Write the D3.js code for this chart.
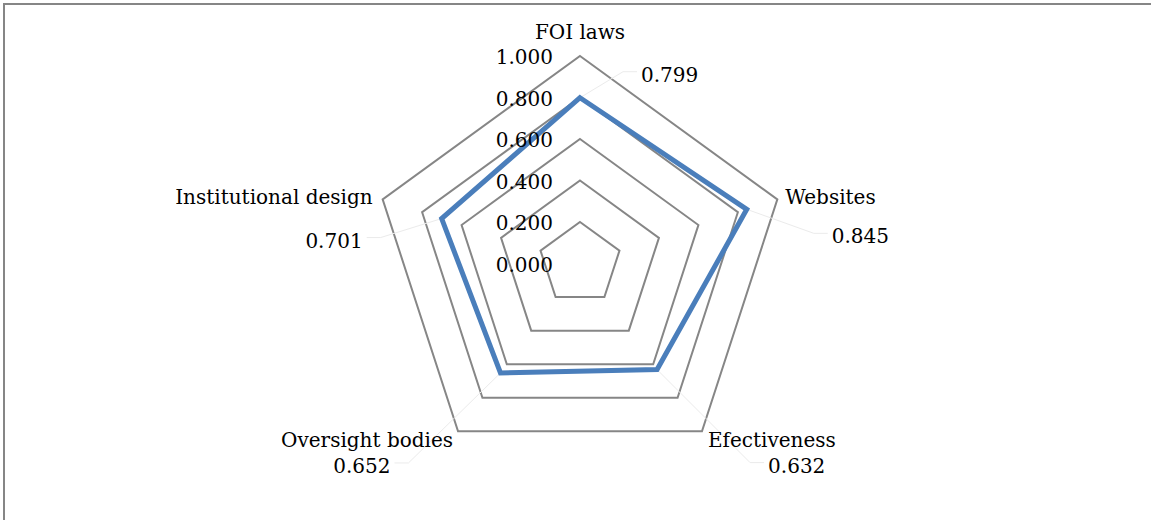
<!DOCTYPE html>
<html><head><meta charset="utf-8">
<script src="https://cdn.jsdelivr.net/npm/d3@7"></script>
<style>body{margin:0;background:#fff}svg{display:block}</style>
</head><body><svg id="chart" width="1151" height="520"></svg>
<script>
// Transparency index by dimension
const categories = ["FOI laws", "Websites", "Efectiveness", "Oversight bodies", "Institutional design"];
const values = [0.799, 0.845, 0.632, 0.652, 0.701];
const tickValues = [0, 0.2, 0.4, 0.6, 0.8, 1.0];
const tickLabels = ["0.000", "0.200", "0.400", "0.600", "0.800", "1.000"];

const svg = d3.select("#chart");
const W = 1151, H = 520;
const cx = 580, cy = 263.5, R = 207.5;
const font = "'DejaVu Serif', serif";
const fs = 20;

// outer frame
svg.append("rect").attr("x", 4).attr("y", 4).attr("width", W + 20).attr("height", H + 20)
  .attr("fill", "#fff").attr("stroke", "#868686").attr("stroke-width", 2);

const r = d3.scaleLinear().domain([0, 1]).range([0, R]);
const angle = d3.scaleLinear().domain([0, categories.length]).range([0, 2 * Math.PI]);
const pt = (i, v) => [cx + r(v) * Math.sin(angle(i)), cy - r(v) * Math.cos(angle(i))];

const g = svg.append("g");

// grid pentagons
const ring = d3.lineRadial().angle((d, i) => angle(i)).radius(d => r(d)).curve(d3.curveLinearClosed);
g.selectAll("path.ring").data(tickValues.filter(t => t > 0)).join("path")
  .attr("class", "ring")
  .attr("transform", `translate(${cx},${cy})`)
  .attr("d", t => ring(categories.map(() => t)))
  .attr("fill", "none").attr("stroke", "#868686").attr("stroke-width", 2);

// leader lines for value labels
const valueLabelOffset = [
  {dx: 61, dy: -23, anchor: "start"},
  {dx: 85, dy: 27, anchor: "start"},
  {dx: 111, dy: 96, anchor: "start"},
  {dx: -110, dy: 93, anchor: "end"},
  {dx: -79, dy: 22, anchor: "end"}
];
values.forEach((v, i) => {
  const [x, y] = pt(i, v);
  const o = valueLabelOffset[i];
  const s = o.anchor === "start" ? 1 : -1;
  const ly = y + o.dy - 3;
  const ex = x + o.dx - s * 4;
  svg.append("path")
    .attr("d", d3.line()([[x, y], [ex - s * 14, ly], [ex, ly]]))
    .attr("fill", "none").attr("stroke", "#ebebeb").attr("stroke-width", 1);
});

// series polygon
svg.append("path")
  .attr("transform", `translate(${cx},${cy})`)
  .attr("d", ring(values))
  .attr("fill", "none").attr("stroke", "#4a7ebb").attr("stroke-width", 5)
  .attr("stroke-linejoin", "miter");

// radial axis tick labels
svg.selectAll("text.tick").data(tickValues).join("text")
  .attr("class", "tick")
  .attr("x", cx - 27).attr("y", t => cy - r(t) + 1)
  .attr("text-anchor", "end").attr("dominant-baseline", "central")
  .attr("font-family", font).attr("font-size", fs).attr("fill", "#000")
  .text((t, i) => tickLabels[i]);

// category labels
const catOffset = [
  {dx: 0, dy: -24, anchor: "middle"},
  {dx: 8, dy: -2, anchor: "start"},
  {dx: 6, dy: 9, anchor: "start"},
  {dx: -5, dy: 9, anchor: "end"},
  {dx: -10, dy: -2, anchor: "end"}
];
categories.forEach((c, i) => {
  const [x, y] = pt(i, 1);
  const o = catOffset[i];
  svg.append("text").attr("x", x + o.dx).attr("y", y + o.dy)
    .attr("text-anchor", o.anchor).attr("dominant-baseline", "central")
    .attr("font-family", font).attr("font-size", fs).attr("fill", "#000")
    .text(c);
});

// value labels
values.forEach((v, i) => {
  const [x, y] = pt(i, v);
  const o = valueLabelOffset[i];
  svg.append("text").attr("x", x + o.dx).attr("y", y + o.dy)
    .attr("text-anchor", o.anchor).attr("dominant-baseline", "central")
    .attr("font-family", font).attr("font-size", fs).attr("fill", "#000")
    .text(d3.format(".3f")(v));
});
</script></body></html>
